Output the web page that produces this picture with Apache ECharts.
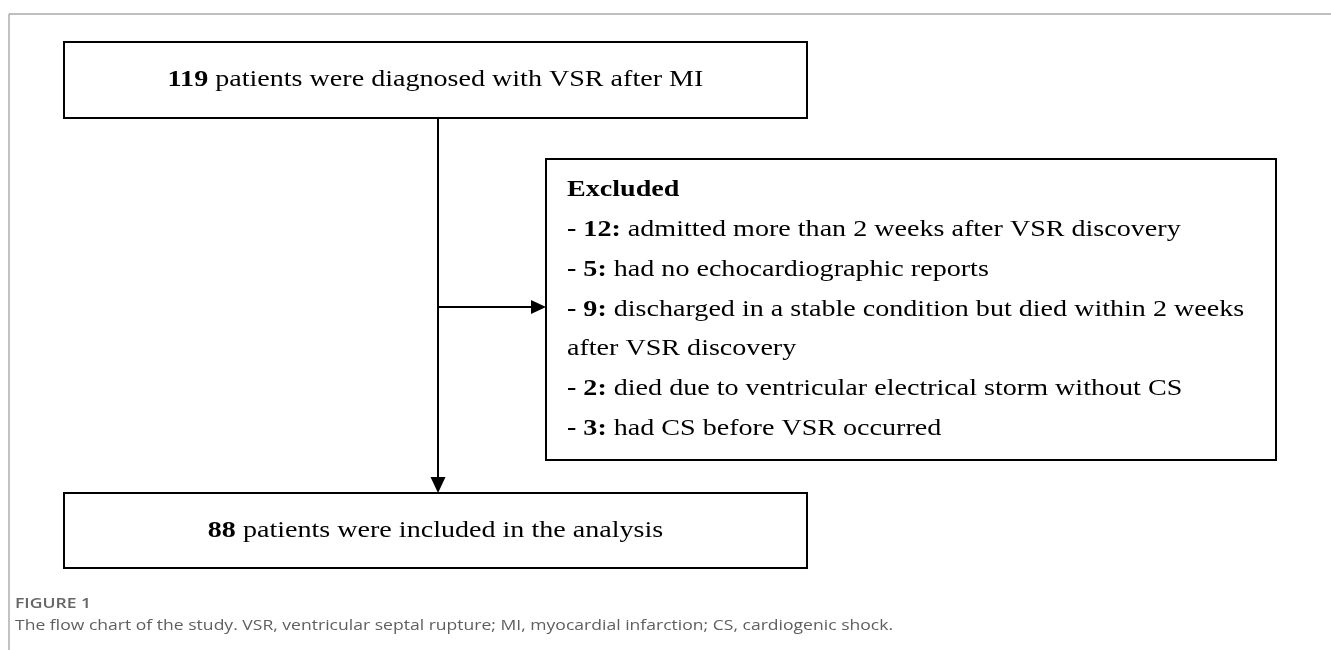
<!DOCTYPE html>
<html>
<head>
<meta charset="utf-8">
<title>Flow chart of the study</title>
<script src="https://cdn.jsdelivr.net/npm/echarts@6/dist/echarts.min.js"></script>
<style>
    html, body { margin: 0; padding: 0; background: #fff; }
    #chart { width: 1331px; height: 650px; }
</style>
</head>
<body>
<div id="chart"></div>
<script>
/* flow chart data */
var totalPatients = 119;
var includedPatients = 88;
var excludedCounts = [12, 5, 9, 2, 3];
var excludedReasons = [
    'admitted more than 2 weeks after VSR discovery',
    'had no echocardiographic reports',
    'discharged in a stable condition but died within 2 weeks\nafter VSR discovery',
    'died due to ventricular electrical storm without CS',
    'had CS before VSR occurred'
];
var topText = 'patients were diagnosed with VSR after MI';
var bottomText = 'patients were included in the analysis';
var excludedTitle = 'Excluded';
var figureLabel = 'FIGURE 1';
var captionText = 'The flow chart of the study. VSR, ventricular septal rupture; MI, myocardial infarction; CS, cardiogenic shock.';

/* layout */
var serif = '"Liberation Serif", "Times New Roman", serif';
var sans = '"Open Sans", "Noto Sans", sans-serif';
var stretch = 1.17; // the source figure is a bit wider than plain Times
var boxLeft = 64, boxRight = 807;
var midX = 438;
var topBox = { y: 42, h: 76 };
var bottomBox = { y: 493, h: 75 };
var exBox = { x: 546, y: 159, w: 730, h: 301 };
var arrowY = 307;

var chart = echarts.init(document.getElementById('chart'), null, { renderer: 'canvas' });

function box(x, y, w, h) {
    return {
        type: 'rect',
        shape: { x: x, y: y, width: w, height: h },
        style: { fill: '#fff', stroke: '#000', lineWidth: 2 }
    };
}

function line(x1, y1, x2, y2, color, width) {
    return {
        type: 'line',
        shape: { x1: x1, y1: y1, x2: x2, y2: y2 },
        style: { stroke: color, lineWidth: width }
    };
}

function head(points) {
    return { type: 'polygon', shape: { points: points }, style: { fill: '#000' } };
}

var richBold = { fontFamily: serif, fontSize: 24, fontWeight: 'bold', lineHeight: 39.8, fill: '#000' };

var excludedLines = ['{h|' + excludedTitle + '}'];
excludedCounts.forEach(function (n, i) {
    excludedLines.push('{b|- ' + n + ':} ' + excludedReasons[i]);
});

var graphics = [
    // figure frame
    line(9, 14, 1331, 14, '#aaa', 1.5),
    line(9, 14, 9, 650, '#999', 1.2),

    // connectors
    line(midX, topBox.y + topBox.h, midX, bottomBox.y - 15, '#000', 2),
    head([[midX - 7.5, bottomBox.y - 16], [midX + 7.5, bottomBox.y - 16], [midX, bottomBox.y]]),
    line(midX, arrowY, exBox.x - 14, arrowY, '#000', 2),
    head([[exBox.x - 15, arrowY - 7], [exBox.x - 15, arrowY + 7], [exBox.x, arrowY]]),

    // boxes
    box(boxLeft, topBox.y, boxRight - boxLeft, topBox.h),
    box(boxLeft, bottomBox.y, boxRight - boxLeft, bottomBox.h),
    box(exBox.x, exBox.y, exBox.w, exBox.h),

    {
        type: 'text',
        x: (boxLeft + boxRight) / 2, y: topBox.y + topBox.h / 2,
        scaleX: stretch,
        style: {
            text: '{b|' + totalPatients + '} ' + topText,
            fontFamily: serif, fontSize: 24, fill: '#000',
            align: 'center', verticalAlign: 'middle',
            rich: { b: richBold }
        }
    },
    {
        type: 'text',
        x: (boxLeft + boxRight) / 2, y: bottomBox.y + bottomBox.h / 2,
        scaleX: stretch,
        style: {
            text: '{b|' + includedPatients + '} ' + bottomText,
            fontFamily: serif, fontSize: 24, fill: '#000',
            align: 'center', verticalAlign: 'middle',
            rich: { b: richBold }
        }
    },
    {
        type: 'text',
        x: 567, y: 170,
        scaleX: stretch,
        style: {
            text: excludedLines.join('\n'),
            fontFamily: serif, fontSize: 24, lineHeight: 39.8, fill: '#000',
            align: 'left', verticalAlign: 'top',
            rich: { h: richBold, b: richBold }
        }
    },

    // caption
    {
        type: 'text',
        x: 15, y: 604,
        scaleX: stretch,
        style: {
            text: figureLabel, fontFamily: sans, fontSize: 15, fontWeight: 600,
            fill: '#666', align: 'left', verticalAlign: 'middle'
        }
    },
    {
        type: 'text',
        x: 15, y: 626,
        scaleX: stretch,
        style: {
            text: captionText, fontFamily: sans, fontSize: 15,
            fill: '#5f5f5f', align: 'left', verticalAlign: 'middle'
        }
    }
];

chart.setOption({
    animation: false,
    graphic: graphics
});
</script>
</body>
</html>
